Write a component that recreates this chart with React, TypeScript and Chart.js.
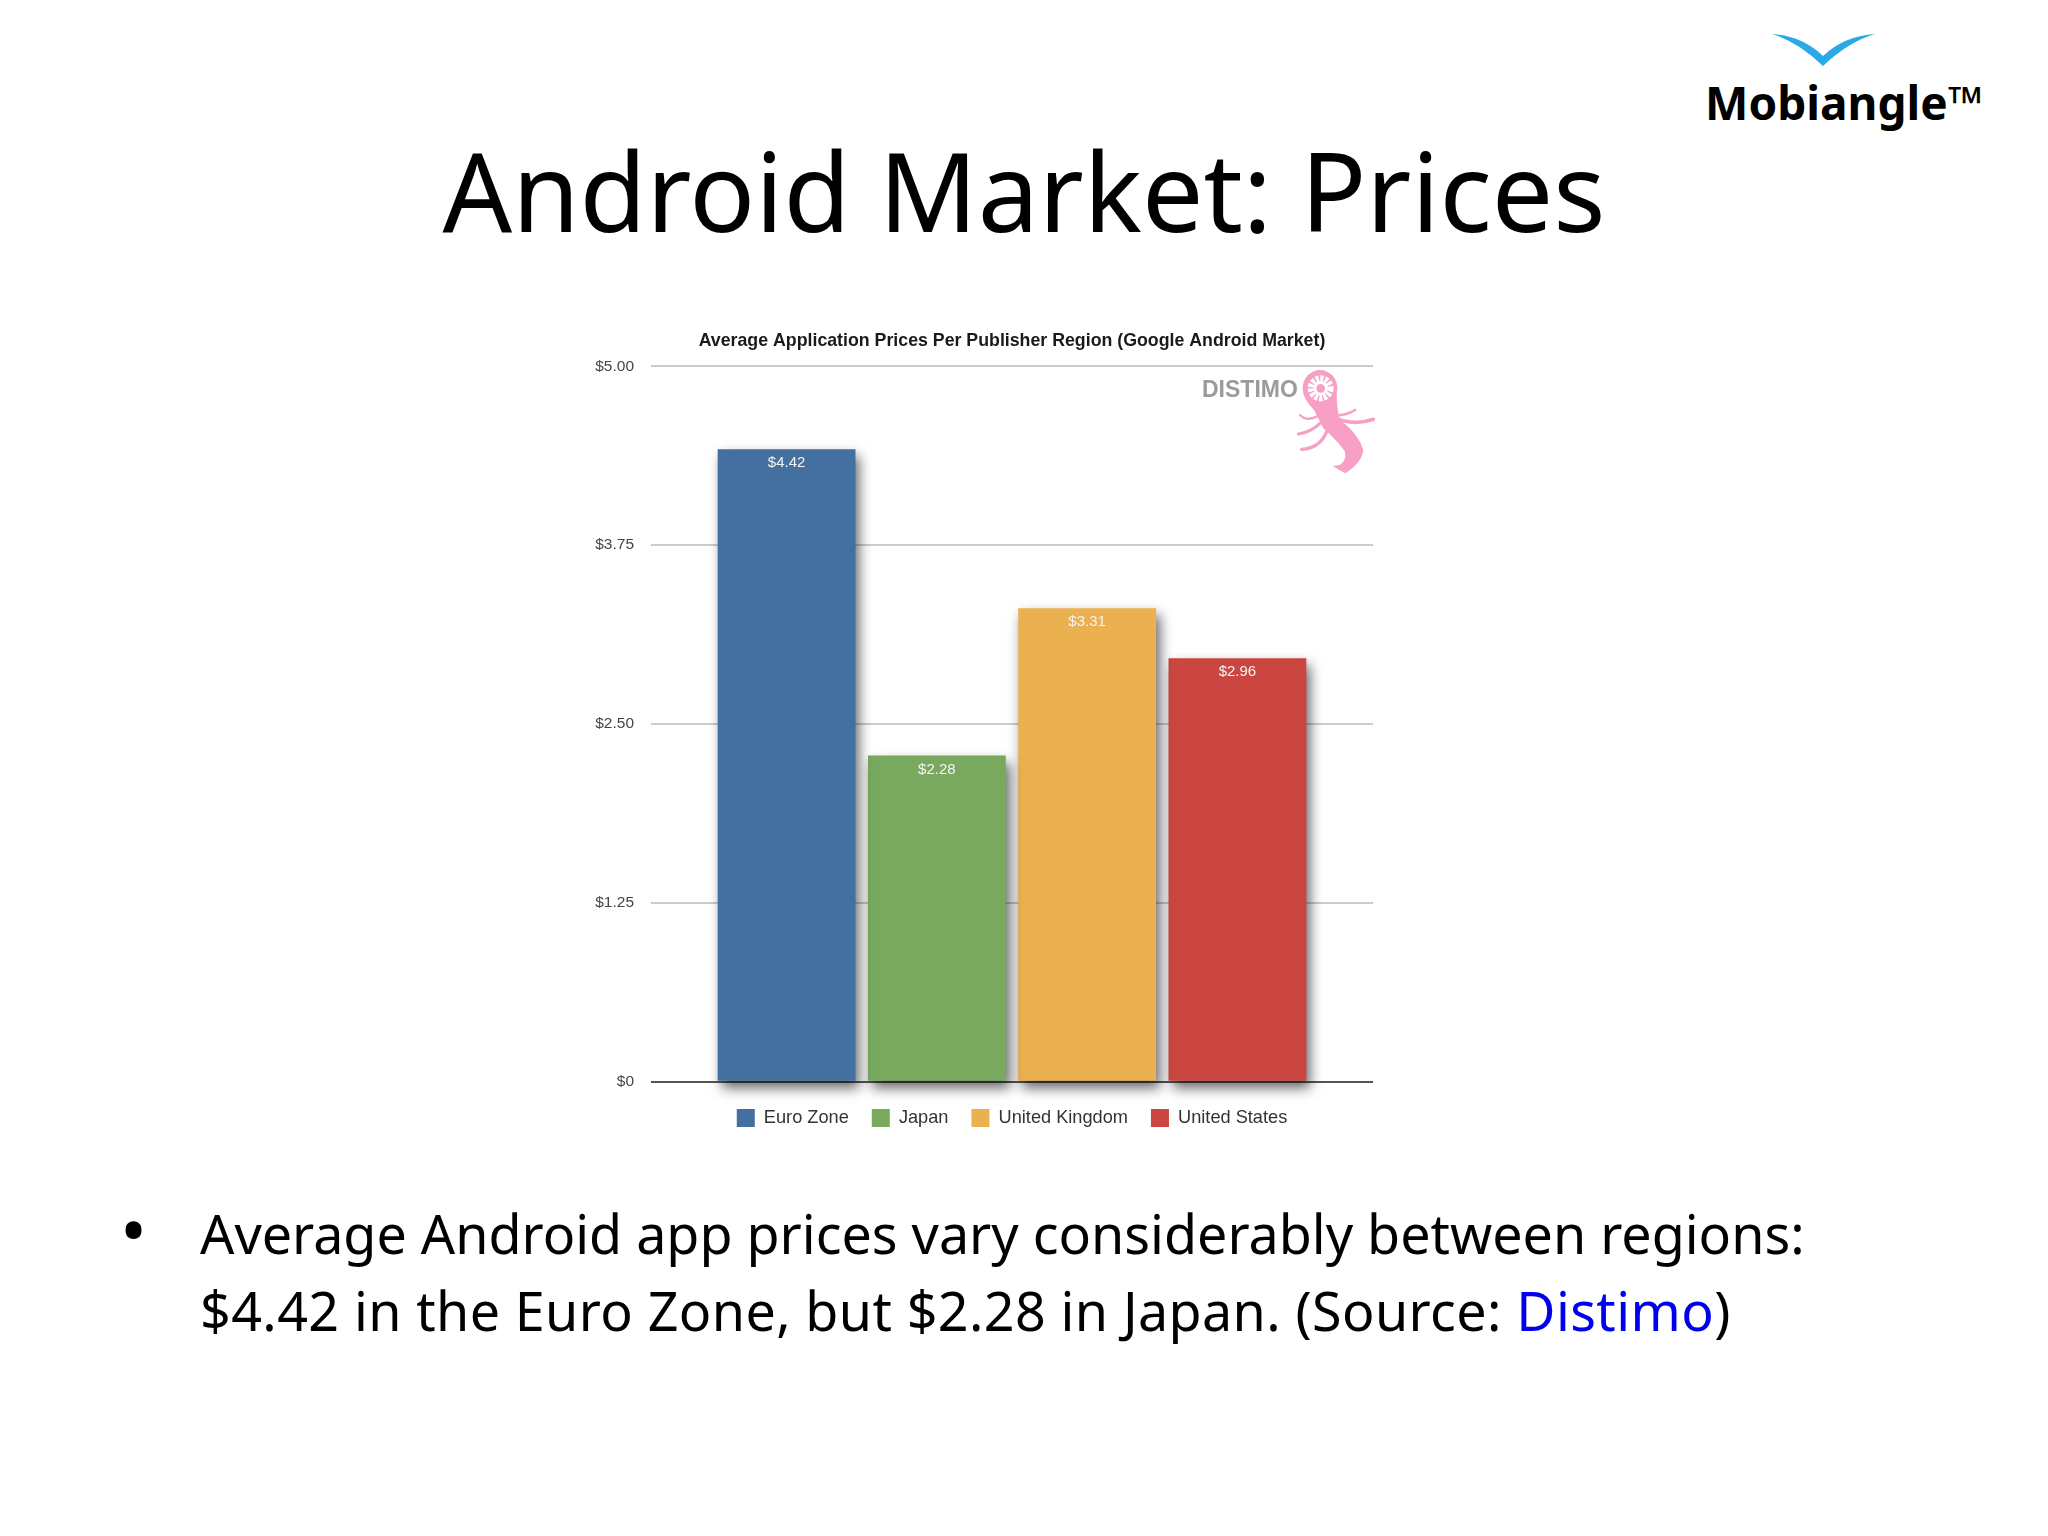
import { useEffect, useRef } from 'react';
import { Chart, registerables } from 'chart.js';

Chart.register(...registerables);

const regions = ['Euro Zone', 'Japan', 'United Kingdom', 'United States'];
const prices = [4.42, 2.28, 3.31, 2.96];
const barColors = ['#44709f', '#78a95f', '#ebb050', '#cb4641'];
const yMax = 5;
const yStep = 1.25;

const money = (v: number) => (v === 0 ? '$0' : '$' + v.toFixed(2));

// soft drop shadow behind the bars, value text inside the top of each bar
const barDecor = {
  id: 'barDecor',
  afterLayout(chart: any) {
    // legend sits closer to the axis than chart.js would put it
    chart.legend.top -= 4;
  },
  beforeDatasetsDraw(chart: any) {
    const { ctx } = chart;
    ctx.save();
    ctx.shadowColor = 'rgba(0,0,0,0.6)';
    ctx.shadowBlur = 12;
    ctx.shadowOffsetX = 4;
    ctx.shadowOffsetY = 7;
  },
  afterDatasetsDraw(chart: any) {
    const { ctx } = chart;
    ctx.restore();
    ctx.save();
    ctx.font = '15px "Liberation Sans"';
    ctx.fillStyle = '#f4f4f4';
    ctx.textAlign = 'center';
    ctx.textBaseline = 'middle';
    chart.data.datasets.forEach((ds: any, i: number) => {
      const bar = chart.getDatasetMeta(i).data[0];
      ctx.fillText(money(ds.data[0]), bar.x, bar.y + 14);
    });
    ctx.restore();
  },
};

export default function App() {
  const canvasRef = useRef<HTMLCanvasElement>(null);

  useEffect(() => {
    if (!canvasRef.current) return;
    const chart = new Chart(canvasRef.current, {
      type: 'bar',
      data: {
        labels: ['Average price'],
        datasets: regions.map((r, i) => ({
          label: r,
          data: [prices[i]],
          backgroundColor: barColors[i],
          clip: false as any,
        })),
      },
      options: {
        responsive: true,
        maintainAspectRatio: false,
        animation: false,
        layout: { padding: { bottom: 9 } },
        datasets: { bar: { categoryPercentage: 0.8326, barPercentage: 0.917 } },
        plugins: {
          tooltip: { enabled: false },
          title: {
            display: true,
            text: 'Average Application Prices Per Publisher Region (Google Android Market)',
            color: '#1a1a1a',
            font: { family: 'Liberation Sans', size: 17.75, weight: 'bold' },
            padding: { top: 20, bottom: 15 },
          },
          legend: {
            position: 'bottom',
            labels: {
              boxWidth: 18,
              boxHeight: 18,
              padding: 23,
              color: '#333',
              font: { family: 'Liberation Sans', size: 18.2 },
            },
          },
        },
        scales: {
          x: {
            grid: { display: false },
            border: { display: false },
            ticks: { display: false },
          },
          y: {
            min: 0,
            max: yMax,
            afterFit: (scale: any) => { scale.width = 74; },
            grid: {
              drawTicks: false,
              lineWidth: 2,
              color: (c: any) => (c.tick.value === 0 ? '#555555' : '#cccccc'),
            },
            border: { display: false },
            ticks: {
              stepSize: yStep,
              padding: 17,
              color: '#444',
              font: { family: 'Liberation Sans', size: 15.5 },
              callback: (v: any) => money(Number(v)),
            },
          },
          // empty axis on the right so title and legend centre on the plot
          yRight: {
            position: 'right',
            afterFit: (scale: any) => { scale.width = 74; },
            grid: { display: false },
            border: { display: false },
            ticks: { display: false },
          },
        },
      },
      plugins: [barDecor],
    });
    return () => chart.destroy();
  }, []);

  const sans = '"Noto Sans", sans-serif';

  return (
    <div style={{ position: 'absolute', left: 0, top: 0, width: 2048, height: 1536, background: '#fff', overflow: 'hidden', fontFamily: sans, color: '#000' }}>
      <div style={{ position: 'absolute', left: 0, width: 2048, top: 110, textAlign: 'center', fontSize: 109, lineHeight: '160px', whiteSpace: 'nowrap' }}>
        Android Market: Prices
      </div>

      {/* Mobiangle logo */}
      <svg style={{ position: 'absolute', left: 1760, top: 28 }} width="125" height="45" viewBox="0 0 125 45">
        <path d="M12 6 Q42 8 63 28 Q84 8 115 6 Q88 14 63 38 Q38 14 12 6 Z" fill="#2aa9e8" />
      </svg>
      <div style={{ position: 'absolute', left: 1705, top: 70, fontSize: 46, fontWeight: 700, lineHeight: '64px', whiteSpace: 'nowrap' }}>
        Mobiangle™
      </div>

      <div style={{ position: 'absolute', left: 577, top: 310, width: 870, height: 840 }}>
        <canvas ref={canvasRef} />
      </div>

      {/* Distimo mark */}
      <div style={{ position: 'absolute', left: 1202, top: 372, fontFamily: '"Liberation Sans"', fontWeight: 700, fontSize: 23, lineHeight: '34px', color: '#9b9b9b', whiteSpace: 'nowrap' }}>
        DISTIMO
      </div>
      <svg style={{ position: 'absolute', left: 1290, top: 360 }} width="100" height="120" viewBox="0 0 300 360">
        <path d="M40 100 Q50 130 72 150 Q85 175 100 205 Q140 240 165 275 Q170 300 150 315 L128 318 L165 340 Q215 310 220 270 Q205 220 150 180 Q140 150 140 100 Z" fill="#f79fc4" />
        <g fill="none" stroke="#f79fc4" strokeLinecap="round">
          <path d="M120 165 Q165 170 195 150" strokeWidth="8" />
          <path d="M125 170 Q190 200 250 178" strokeWidth="11" />
          <path d="M80 170 Q50 185 30 165" strokeWidth="7" />
          <path d="M90 190 Q65 215 25 222" strokeWidth="9" />
          <path d="M110 215 Q90 265 35 268" strokeWidth="10" />
        </g>
        <ellipse cx="90" cy="85" rx="52" ry="55" fill="#f79fc4" />
        <circle cx="92" cy="85" r="28" fill="none" stroke="#fff" strokeWidth="22" strokeDasharray="9 4" />
        <circle cx="92" cy="85" r="22" fill="#fff" />
        <circle cx="92" cy="85" r="13" fill="#f79fc4" />
      </svg>

      <div style={{ position: 'absolute', left: 120, top: 1190, fontSize: 72, lineHeight: '77px' }}>•</div>
      <div style={{ position: 'absolute', left: 200, top: 1195, fontSize: 53.8, lineHeight: '77px', whiteSpace: 'nowrap' }}>
        Average Android app prices vary considerably between regions:
        <br />
        <span style={{ letterSpacing: 0.4 }}>
          $4.42 in the Euro Zone, but $2.28 in Japan. (Source: <span style={{ color: '#0000ee' }}>Distimo</span>)
        </span>
      </div>
    </div>
  );
}
